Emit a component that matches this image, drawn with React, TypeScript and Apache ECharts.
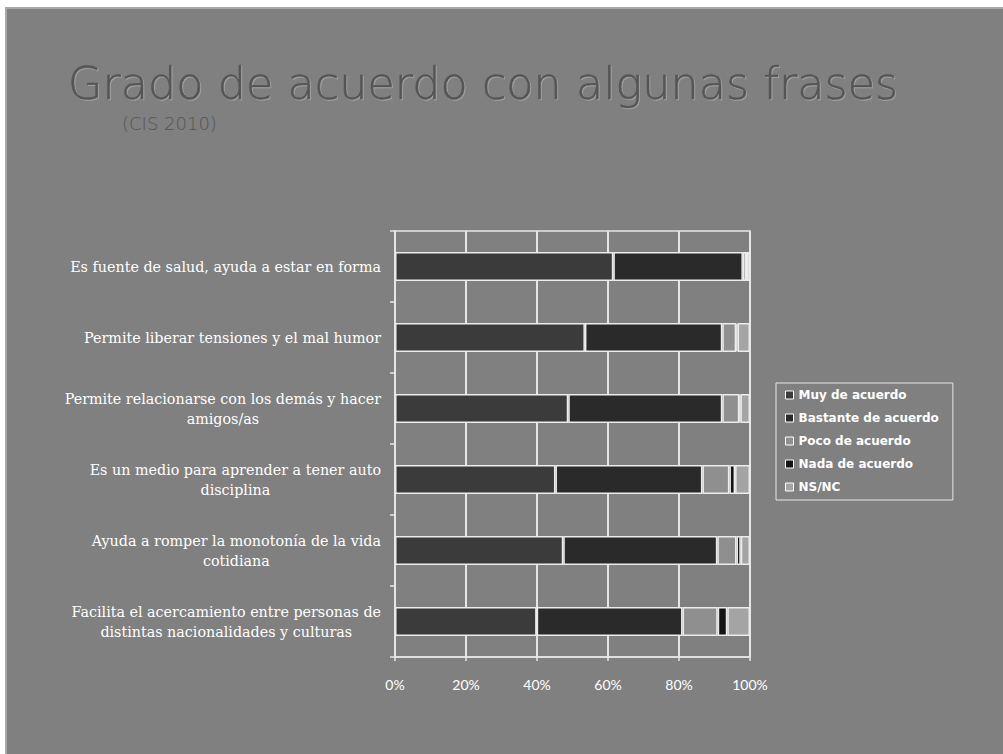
import React, { useEffect, useRef } from "react";
import * as echarts from "echarts";

const categories = [
  "Es fuente de salud, ayuda a estar en forma",
  "Permite liberar tensiones y el mal humor",
  "Permite relacionarse con los demás y hacer\namigos/as",
  "Es un medio para aprender a tener auto\ndisciplina",
  "Ayuda a romper la monotonía de la vida\ncotidiana",
  "Facilita el acercamiento entre personas de\ndistintas nacionalidades y culturas",
];

const seriesNames = ["Muy de acuerdo", "Bastante de acuerdo", "Poco de acuerdo", "Nada de acuerdo", "NS/NC"];

const muyDeAcuerdo = [61.5, 53.5, 48.8, 45.2, 47.4, 39.9];
const bastanteDeAcuerdo = [36.5, 38.7, 43.4, 41.4, 43.4, 41.1];
const pocoDeAcuerdo = [1.0, 3.9, 4.8, 7.6, 5.4, 9.9];
const nadaDeAcuerdo = [0.1, 0.4, 0.3, 1.6, 1.2, 2.7];
const nsNc = [0.9, 3.5, 2.7, 4.2, 2.6, 6.4];

const xTicks = [0, 20, 40, 60, 80, 100];

const colors = ["#3b3b3b", "#2a2a2a", "#8f8f8f", "#141414", "#a4a4a4"];

export default function App() {
  const ref = useRef<HTMLDivElement>(null);
  useEffect(() => {
    if (!ref.current) return;
    const chart = echarts.init(ref.current, null, { renderer: "svg" });
    const values = [muyDeAcuerdo, bastanteDeAcuerdo, pocoDeAcuerdo, nadaDeAcuerdo, nsNc];
    chart.setOption({
      animation: false,
      backgroundColor: "#ffffff",
      graphic: [
        {
          type: "rect",
          z: -10,
          shape: { x: 6, y: 8, width: 1010, height: 760 },
          style: { fill: "#808080", stroke: "#a8a8a8", lineWidth: 2 },
        },
        {
          type: "text",
          x: 68,
          y: 61,
          style: {
            text: "Grado de acuerdo con algunas frases",
            fontFamily: "DejaVu Sans",
            fontWeight: 200,
            fontSize: 44.5,
            fill: "#545454",
            stroke: "#5a5a5a",
            lineWidth: 0.6,
            textShadowColor: "#a0a0a0",
            textShadowOffsetX: 1,
            textShadowOffsetY: 1,
            textShadowBlur: 1,
          },
        },
        {
          type: "text",
          x: 122,
          y: 114,
          style: {
            text: "(CIS 2010)",
            fontFamily: "DejaVu Sans",
            fontWeight: 200,
            fontSize: 18,
            fill: "#545454",
            textShadowColor: "#a0a0a0",
            textShadowOffsetX: 1,
            textShadowOffsetY: 1,
          },
        },
      ],
      grid: {
        left: 395,
        top: 231,
        width: 355,
        height: 426,
        show: true,
        borderColor: "#e6e6e6",
        borderWidth: 1.5,
        backgroundColor: "transparent",
      },
      legend: {
        orient: "vertical",
        left: 776,
        top: 383,
        data: seriesNames,
        selectedMode: false,
        backgroundColor: "#808080",
        borderColor: "#e6e6e6",
        borderWidth: 1,
        padding: [5, 14, 6, 9],
        itemWidth: 8,
        itemHeight: 8,
        itemGap: 9,
        icon: "rect",
        itemStyle: { borderColor: "#ffffff", borderWidth: 1 },
        textStyle: {
          color: "#ffffff",
          fontFamily: "DejaVu Sans",
          fontWeight: "bold",
          fontSize: 12,
          lineHeight: 14,
          padding: [0, 0, 0, 0],
        },
      },
      xAxis: {
        type: "value",
        min: xTicks[0],
        max: xTicks[xTicks.length - 1],
        interval: 20,
        axisLine: { show: true, lineStyle: { color: "#e6e6e6", width: 1.5 } },
        axisTick: { show: true, length: 4, lineStyle: { color: "#e6e6e6", width: 1.5 } },
        splitLine: { show: true, lineStyle: { color: "#e6e6e6", width: 2 } },
        axisLabel: {
          formatter: "{value}%",
          color: "#ffffff",
          fontFamily: "Lato",
          fontSize: 14,
          margin: 20,
        },
      },
      yAxis: {
        type: "category",
        inverse: true,
        data: categories,
        axisLine: { show: true, lineStyle: { color: "#e6e6e6", width: 2 } },
        axisTick: { show: true, length: 5, lineStyle: { color: "#e6e6e6", width: 1.5 } },
        axisLabel: {
          color: "#ffffff",
          fontFamily: "DejaVu Serif",
          fontSize: 14.3,
          lineHeight: 20,
          align: "right",
          margin: 14,
          formatter: (v: string) =>
            v
              .split("\n")
              .map((l) => `{c|${l}}`)
              .join("\n"),
          rich: {
            c: {
              align: "center",
              color: "#ffffff",
              fontFamily: "DejaVu Serif",
              fontSize: 14.3,
              lineHeight: 20,
            },
          },
        },
      },
      series: seriesNames.map((name, i) => ({
        name,
        type: "bar",
        stack: "total",
        barWidth: 29,
        data: values[i],
        itemStyle: { color: colors[i], borderColor: "#ececec", borderWidth: 1.5 },
      })),
    });
    return () => chart.dispose();
  }, []);
  return (
    <div
      ref={ref}
      style={{ position: "fixed", left: 0, top: 0, width: 1003, height: 754 }}
    />
  );
}
